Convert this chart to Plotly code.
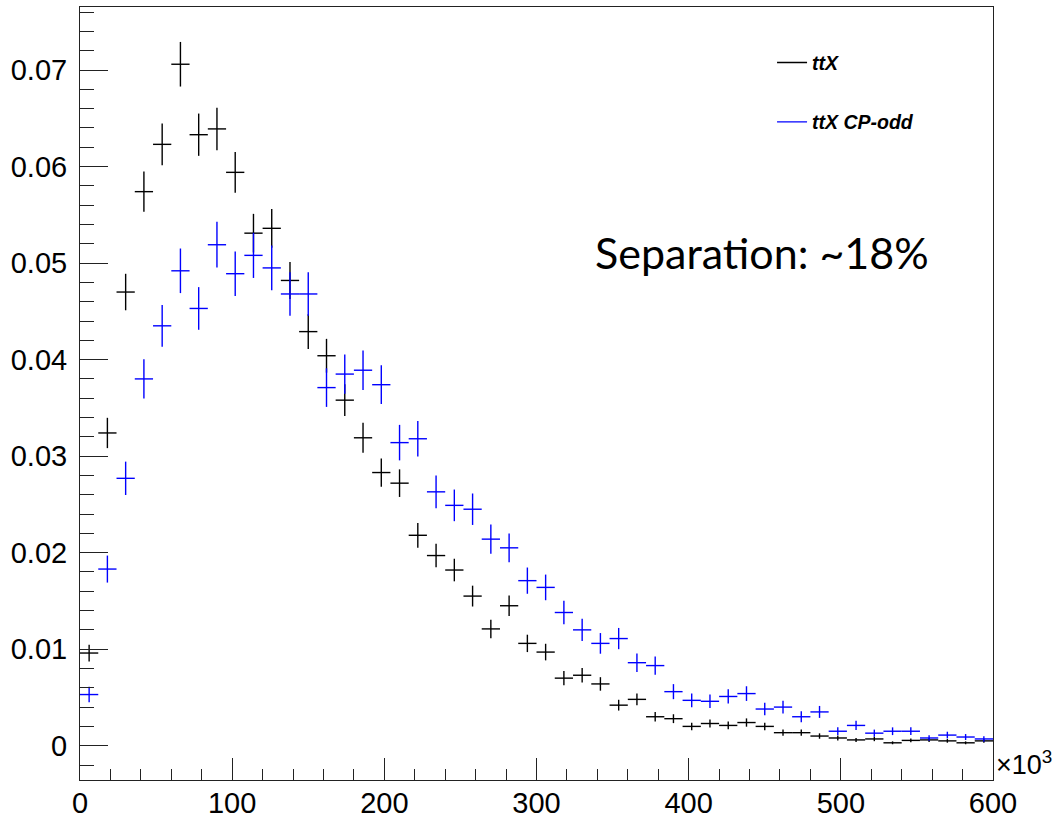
import plotly.graph_objects as go

# Bin centres (x, in units of 10^3), bin half width = 6
bin_centers = [6, 18, 30, 42, 54, 66, 78, 90, 102, 114,
               126, 138, 150, 162, 174, 186, 198, 210, 222, 234,
               246, 258, 270, 282, 294, 306, 318, 330, 342, 354,
               366, 378, 390, 402, 414, 426, 438, 450, 462, 474,
               486, 498, 510, 522, 534, 546, 558, 570, 582, 594]
bin_half_width = [6] * 50

ttx_values = [0.0096, 0.0324, 0.0470, 0.0574, 0.0623, 0.0706, 0.0633, 0.0639, 0.0594, 0.0531,
              0.0536, 0.0482, 0.0429, 0.0404, 0.0358, 0.0319, 0.0283, 0.0272, 0.0218, 0.0197,
              0.0182, 0.0155, 0.0121, 0.0145, 0.0106, 0.0097, 0.0070, 0.0073, 0.0064, 0.0042,
              0.0048, 0.0030, 0.0028, 0.0020, 0.0023, 0.0021, 0.0024, 0.0020, 0.00135, 0.00135,
              0.0010, 0.0008, 0.0006, 0.0007, 0.0003, 0.00055, 0.0006, 0.0005, 0.0003, 0.0005]
ttx_errors = [0.00087, 0.00157, 0.00189, 0.00208, 0.00217, 0.00231, 0.00219, 0.00220, 0.00212, 0.00200,
              0.00201, 0.00191, 0.00180, 0.00175, 0.00165, 0.00155, 0.00146, 0.00143, 0.00128, 0.00122,
              0.00117, 0.00108, 0.00096, 0.00105, 0.00090, 0.00086, 0.00073, 0.00074, 0.00070, 0.00056,
              0.00060, 0.00048, 0.00046, 0.00039, 0.00042, 0.00040, 0.00043, 0.00039, 0.00032, 0.00032,
              0.00028, 0.00025, 0.00021, 0.00023, 0.00015, 0.00020, 0.00021, 0.00019, 0.00015, 0.00019]

cpodd_values = [0.0053, 0.0183, 0.0277, 0.0380, 0.0435, 0.0492, 0.0453, 0.0519, 0.0489, 0.0508,
                0.0495, 0.0468, 0.0468, 0.0371, 0.0385, 0.0389, 0.0374, 0.0314, 0.0318, 0.0263,
                0.0249, 0.0245, 0.0214, 0.0205, 0.0171, 0.0164, 0.0138, 0.0120, 0.0106, 0.0111,
                0.0086, 0.0083, 0.0056, 0.0047, 0.0046, 0.0051, 0.0054, 0.0038, 0.0040, 0.0030,
                0.0035, 0.0015, 0.0021, 0.0013, 0.0015, 0.0015, 0.0008, 0.0011, 0.0009, 0.0007]
cpodd_errors = [0.00080, 0.00140, 0.00173, 0.00203, 0.00217, 0.00231, 0.00221, 0.00237, 0.00230, 0.00234,
                0.00231, 0.00225, 0.00225, 0.00200, 0.00204, 0.00205, 0.00201, 0.00184, 0.00185, 0.00169,
                0.00164, 0.00163, 0.00152, 0.00149, 0.00136, 0.00133, 0.00122, 0.00114, 0.00107, 0.00110,
                0.00096, 0.00095, 0.00078, 0.00071, 0.00070, 0.00074, 0.00076, 0.00064, 0.00066, 0.00057,
                0.00062, 0.00040, 0.00048, 0.00037, 0.00040, 0.00040, 0.00029, 0.00035, 0.00031, 0.00028]

series_names = ["<b><i>ttX</i></b>", "<b><i>ttX CP-odd</i></b>"]
series_colors = ["#000000", "#0000ff"]

x_tick_vals = [0, 100, 200, 300, 400, 500, 600]
y_tick_vals = [0, 0.01, 0.02, 0.03, 0.04, 0.05, 0.06, 0.07]

fig = go.Figure()

for vals, errs, name, col in [(ttx_values, ttx_errors, series_names[0], series_colors[0]),
                              (cpodd_values, cpodd_errors, series_names[1], series_colors[1])]:
    fig.add_trace(go.Scatter(
        x=bin_centers, y=vals, mode="markers",
        marker=dict(size=1, color=col, opacity=0),
        error_x=dict(type="data", array=bin_half_width, symmetric=True,
                     color=col, thickness=1.4, width=0),
        error_y=dict(type="data", array=errs, symmetric=True,
                     color=col, thickness=1.4, width=0),
        showlegend=False, hoverinfo="skip"))

# legend entries (line samples like ROOT's "l" option)
for i, (name, col) in enumerate(zip(series_names, series_colors)):
    fig.add_trace(go.Scatter(x=[None], y=[None], mode="lines", name=name,
                             line=dict(color=col, width=1.4),
                             legendgroup=f"g{i}"))

axis_common = dict(showgrid=False, zeroline=False, showline=True, linecolor="#222222",
                   linewidth=1, mirror=True, ticks="inside", tickcolor="#222222",
                   tickwidth=1, automargin=False,
                   tickfont=dict(family="Liberation Sans, Arial, sans-serif", size=29, color="#000000"))

fig.update_xaxes(range=[0, 600], tickvals=x_tick_vals, ticklen=22,
                 minor=dict(ticks="inside", ticklen=11, dtick=20, tick0=0,
                            tickcolor="#222222", tickwidth=1, showgrid=False),
                 ticklabelstandoff=-3,
                 **axis_common)
fig.update_yaxes(range=[-0.003553, 0.07653], tickvals=y_tick_vals, ticklen=28,
                 minor=dict(ticks="inside", ticklen=14, dtick=0.002, tick0=0,
                            tickcolor="#222222", tickwidth=1, showgrid=False),
                 ticklabelstandoff=6,
                 **axis_common)

fig.add_annotation(text="Separation: ~18%", xref="paper", yref="paper",
                   x=0.562, y=0.683, xanchor="left", yanchor="middle", showarrow=False,
                   font=dict(family="Lato, sans-serif", size=43, color="#000000"))
fig.add_annotation(text="\u00d710<sup>3</sup>", xref="paper", yref="paper",
                   x=1.001, y=0, xanchor="left", yanchor="bottom", yshift=-2, showarrow=False,
                   font=dict(family="Liberation Sans, Arial, sans-serif", size=27, color="#000000"))

fig.update_layout(
    width=1064, height=819,
    margin=dict(l=80, r=71, t=7, b=39),
    paper_bgcolor="white", plot_bgcolor="white",
    legend=dict(x=0.758, y=0.953, xanchor="left", yanchor="top",
                bgcolor="rgba(0,0,0,0)", borderwidth=0,
                font=dict(family="Liberation Sans, Arial, sans-serif", size=19.5, color="#000000"),
                traceorder="grouped", tracegroupgap=31, itemwidth=30),
)

fig.write_html("out.html",
               config={"displayModeBar": False},
               post_script="document.body.style.margin='0';document.body.style.overflow='hidden';")
